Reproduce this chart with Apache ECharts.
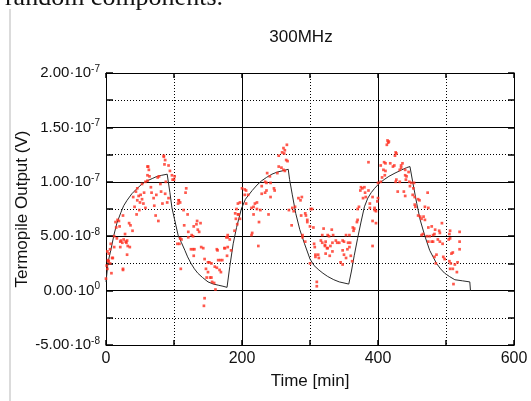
<!DOCTYPE html>
<html>
<head>
<meta charset="utf-8">
<script src="https://cdn.jsdelivr.net/npm/echarts@6/dist/echarts.min.js"></script>
<style>html,body{margin:0;padding:0;background:#fff;}#c{width:531px;height:401px;}</style>
</head>
<body>
<div id="c"></div>
<script>
// Values: time in minutes, output in units of 1e-9 V (converted to V below)
const xTicks = [0, 200, 400, 600];
const yTickLabels = [['-5.00\u00b710', '-8'], ['0.00\u00b710', '0'], ['5.00\u00b710', '-8'], ['1.00\u00b710', '-7'], ['1.50\u00b710', '-7'], ['2.00\u00b710', '-7']];

const fitCurve = [
[0,8],[3,26],[7,37],[12,52],[16,62],[22,72],[26,78],[31,83],[38,89],[46,94],[53,98],[61,101],[68,103],[75,105],[82,106],[90,107],
[94,90],[97,76],[101,65],[106,51],[111,44],[116,37],[120,31],[125,25],[130,20],[135,16],[142,12],[150,8],[158,6],[165,5],[172,4],[178,3],
[182,22],[187,43],[192,58],[199,75],[205,84],[215,92],[222,97],[229,101],[236,104],[244,107],[252,109],[259,110],[268,111.5],
[270,102],[274,88],[279,71],[285,56],[292,43],[300,29],[306,23],[313,19],[319,16],[326,13],[335,10],[343,8],[350,7],[357,6],
[361,18],[365,32],[370,48],[375,63],[380,77],[385,85],[390,90],[395,94],[402,98.6],[409,102],[416,105],[425,108],[435,111],[442,113],[447,114],
[451,100],[457,80],[462,65],[469,50],[476,37],[486,25],[492,20],[498,16],[505,13],[513,10],[524,9],[535,8],[536,0]
];

const pointsCycle1 = [
[85,123],[61,114],[86,116],[92,115],[63,111],[61,106],[64,105],[78,105],[76,104],[97,106],[101,105],[58,100],[61,101],[53,98],[98,102],[100,102],
[46,94],[44,91],[56,90],[51,88],[67,90],[74,88],[81,91],[87,89],[92,85],[48,87],[53,84],[46,83],[50,81],[40,86],[42,77],[49,74],[71,78],[83,80],
[90,81],[107,83],[106,80],[73,69],[77,64],[25,69],[19,64],[14,63],[17,65],[20,59],[15,58],[39,55],[12,50],[7,43],[26,47],[31,46],[29,45],[24,44],
[32,41],[21,40],[6,38],[4,34],[31,33],[3,28],[4,27],[1,23],[6,25],[25,20],[2,20],[0,11],[105,43],[109,48],[2,36],[3,27],[8,16],[25,19],[21,45],
[22,46],[30,44],[35,40],[10,30],[85,124],[87,120],[62,114],[36,60],[55,80],[66,95],[70,85],[80,98],[94,110],[88,100],[58,76],[45,70],[12,40],
[16,48],[9,30],[28,52],[34,62]
];
const pointsDecay1 = [
[118,94],[117,90],[107,83],[109,81],[114,74],[120,70],[115,60],[134,64],[133,61],[139,62],[129,59],[135,56],[137,54],[121,54],[126,51],[128,50],
[121,49],[111,47],[108,43],[140,40],[143,39],[125,38],[128,38],[130,38],[164,37],[163,38],[129,32],[145,29],[150,26],[152,26],[155,25],[165,28],
[168,28],[171,28],[160,22],[163,21],[167,19],[169,17],[147,20],[150,17],[148,12],[153,12],[155,12],[156,8],[159,7],[161,1],[110,20],[179,49],
[182,47],[179,40],[175,39],[174,39],[184,37],[178,32],[179,51],[177,49],[189,55],[193,61],[197,66],[191,66],[190,71],[194,70],[195,70],[194,80],
[197,81],[192,75],[204,88],[209,88],[206,80],[200,94],[204,93],[206,92],[215,53],[214,51],[145,-7],[144,-14]
];
const pointsCycle2 = [
[266,134],[261,131],[263,129],[259,127],[262,126],[254,124],[265,120],[267,119],[254,114],[258,113],[261,111],[263,110],[237,108],[252,108],
[241,105],[234,100],[236,99],[242,99],[229,96],[247,94],[248,92],[236,92],[234,90],[229,89],[242,86],[222,81],[219,80],[217,77],[214,76],[222,75],
[227,74],[217,70],[225,63],[239,70],[224,41],[288,86],[283,85],[286,83],[274,76],[278,77],[276,73],[273,60],[269,74],[287,69],[294,69],[293,71],
[296,65],[296,63],[301,75],[303,75],[300,59],[305,58],[320,57],[318,51],[316,46],[318,44],[322,42],[322,41],[306,43],[307,40],[289,51],[289,49],
[293,45],[308,33],[312,33],[313,30],[308,31],[300,25],[310,8],[310,4],[325,39]
];
const pointsCycle3 = [
[414,138],[415,136],[416,137],[413,134],[426,127],[427,126],[425,124],[386,118],[404,115],[409,118],[411,117],[422,114],[424,115],[418,117],
[408,111],[411,110],[427,102],[426,100],[432,100],[406,104],[410,106],[400,99],[404,100],[375,95],[377,94],[380,95],[374,92],[381,90],[386,92],
[429,91],[378,85],[382,86],[392,86],[400,85],[399,82],[388,80],[372,77],[370,75],[388,76],[395,76],[397,73],[395,74],[392,64],[397,62],[370,65],
[369,63],[365,57],[363,58],[364,55],[353,51],[358,51],[348,46],[350,45],[356,44],[359,44],[338,46],[340,44],[343,44],[332,56],[326,51],[328,50],
[334,51],[333,44],[330,41],[326,39],[323,45],[333,36],[329,32],[323,34],[348,37],[350,33],[353,30],[345,26],[348,24],[360,32],[362,27],[358,40],
[355,38],[392,41]
];
const pointsDecay3 = [
[436,117],[434,115],[434,113],[432,111],[440,111],[445,109],[442,105],[440,106],[441,102],[446,100],[449,99],[453,99],[447,96],[452,94],[438,91],
[451,88],[454,86],[459,84],[461,83],[440,87],[473,90],[454,79],[455,77],[469,77],[474,76],[459,69],[462,68],[467,68],[464,66],[469,65],[494,62],
[474,58],[479,59],[484,56],[490,55],[491,53],[506,55],[505,52],[520,54],[466,52],[464,51],[472,50],[476,50],[481,51],[483,52],[474,45],[479,45],
[481,45],[491,45],[495,43],[488,47],[504,47],[506,48],[520,45],[520,38],[483,31],[486,33],[496,31],[498,29],[508,34],[510,35],[505,27],[485,25],
[507,25],[513,24],[517,26],[506,20],[510,20],[516,17],[511,6]
];

const NV = 1e-9;
const toVolt = arr => arr.map(p => [p[0], p[1] * NV]);
const scatterAll = toVolt([].concat(pointsCycle1, pointsDecay1, pointsCycle2, pointsCycle3, pointsDecay3));
const curveData = toVolt(fitCurve);

const font = 'Liberation Sans';
const yStep = 5e-8;
function yLabel(v) {
  const i = Math.round(v / yStep) + 1;
  const l = yTickLabels[i];
  if (!l) return '';
  return '{m|' + l[0] + '}{s|' + l[1] + '}';
}

const chart = echarts.init(document.getElementById('c'), null, {renderer: 'canvas'});
const gridLine = {show: true, lineStyle: {color: '#000', width: 1, type: 'solid'}};
const minorGridLine = {show: true, lineStyle: {color: '#000', width: 1, type: [1, 2]}};
const axLine = {show: true, onZero: false, lineStyle: {color: '#000', width: 1}};
chart.setOption({
  animation: false,
  backgroundColor: '#fff',
  title: {text: '300MHz', left: 296, top: 24, textAlign: 'center',
    textStyle: {fontFamily: font, fontSize: 17, fontWeight: 'normal', color: '#111'}},
  graphic: [
    {type: 'line', shape: {x1: 10, y1: 9, x2: 10, y2: 401}, style: {stroke: '#cfcfcf', lineWidth: 1.5}, silent: true},
    {type: 'text', style: {text: 'random components.', x: 223, y: 11, align: 'right', verticalAlign: 'bottom',
      font: '26px "Liberation Serif"', fill: '#111'}, silent: true}
  ],
  grid: {left: 106, right: 17, top: 73, bottom: 56, containLabel: false},
  xAxis: [{
    type: 'value', min: 0, max: 600, interval: 200, position: 'bottom',
    name: 'Time [min]', nameLocation: 'middle', nameGap: 28, nameMoveOverlap: false,
    nameTextStyle: {fontFamily: font, fontSize: 17, color: '#111'},
    axisLine: axLine,
    axisTick: {show: true, inside: true, length: 5, lineStyle: {color: '#000', width: 1.5}},
    minorTick: {show: true, splitNumber: 2, length: 5, lineStyle: {color: '#000', width: 1.5}},
    axisLabel: {margin: 6, fontFamily: font, fontSize: 16, color: '#111',
      formatter: v => (xTicks.indexOf(Math.round(v)) >= 0 ? String(Math.round(v)) : '')},
    splitLine: gridLine,
    minorSplitLine: minorGridLine
  }, {
    type: 'value', min: 0, max: 600, interval: 200, position: 'top',
    axisLine: axLine,
    axisTick: {show: true, inside: true, length: 5, lineStyle: {color: '#000', width: 1.5}},
    minorTick: {show: true, splitNumber: 2, length: 5, lineStyle: {color: '#000', width: 1.5}},
    axisLabel: {show: false}, splitLine: {show: false}
  }],
  yAxis: [{
    type: 'value', min: -5e-8, max: 2e-7, interval: yStep, position: 'left',
    name: 'Termopile Output (V)', nameLocation: 'middle', nameGap: 75, nameMoveOverlap: false,
    nameTextStyle: {fontFamily: font, fontSize: 17, color: '#111'},
    axisLine: axLine,
    axisTick: {show: true, inside: true, length: 7, lineStyle: {color: '#000', width: 1.5}},
    minorTick: {show: true, splitNumber: 2, length: 7, lineStyle: {color: '#000', width: 1.5}},
    axisLabel: {margin: 6, formatter: yLabel,
      rich: {
        m: {fontFamily: font, fontSize: 15, color: '#111', lineHeight: 18},
        s: {fontFamily: font, fontSize: 10, color: '#111', verticalAlign: 'top', lineHeight: 18, padding: [0, 0, 8, 0]}
      }},
    splitLine: gridLine,
    minorSplitLine: minorGridLine
  }, {
    type: 'value', min: -5e-8, max: 2e-7, interval: yStep, position: 'right',
    axisLine: axLine,
    axisTick: {show: true, inside: true, length: 6, lineStyle: {color: '#000', width: 1.5}},
    minorTick: {show: true, splitNumber: 2, length: 6, lineStyle: {color: '#000', width: 1.5}},
    axisLabel: {show: false}, splitLine: {show: false}
  }],
  series: [{
    type: 'line', data: curveData, showSymbol: false, symbol: 'none', smooth: false,
    lineStyle: {color: '#2a2a2a', width: 1}, z: 3
  }, {
    type: 'scatter', data: scatterAll, symbol: 'rect', symbolSize: 2.7,
    itemStyle: {color: '#ff3020'}, z: 4
  }]
});
</script>
</body>
</html>
